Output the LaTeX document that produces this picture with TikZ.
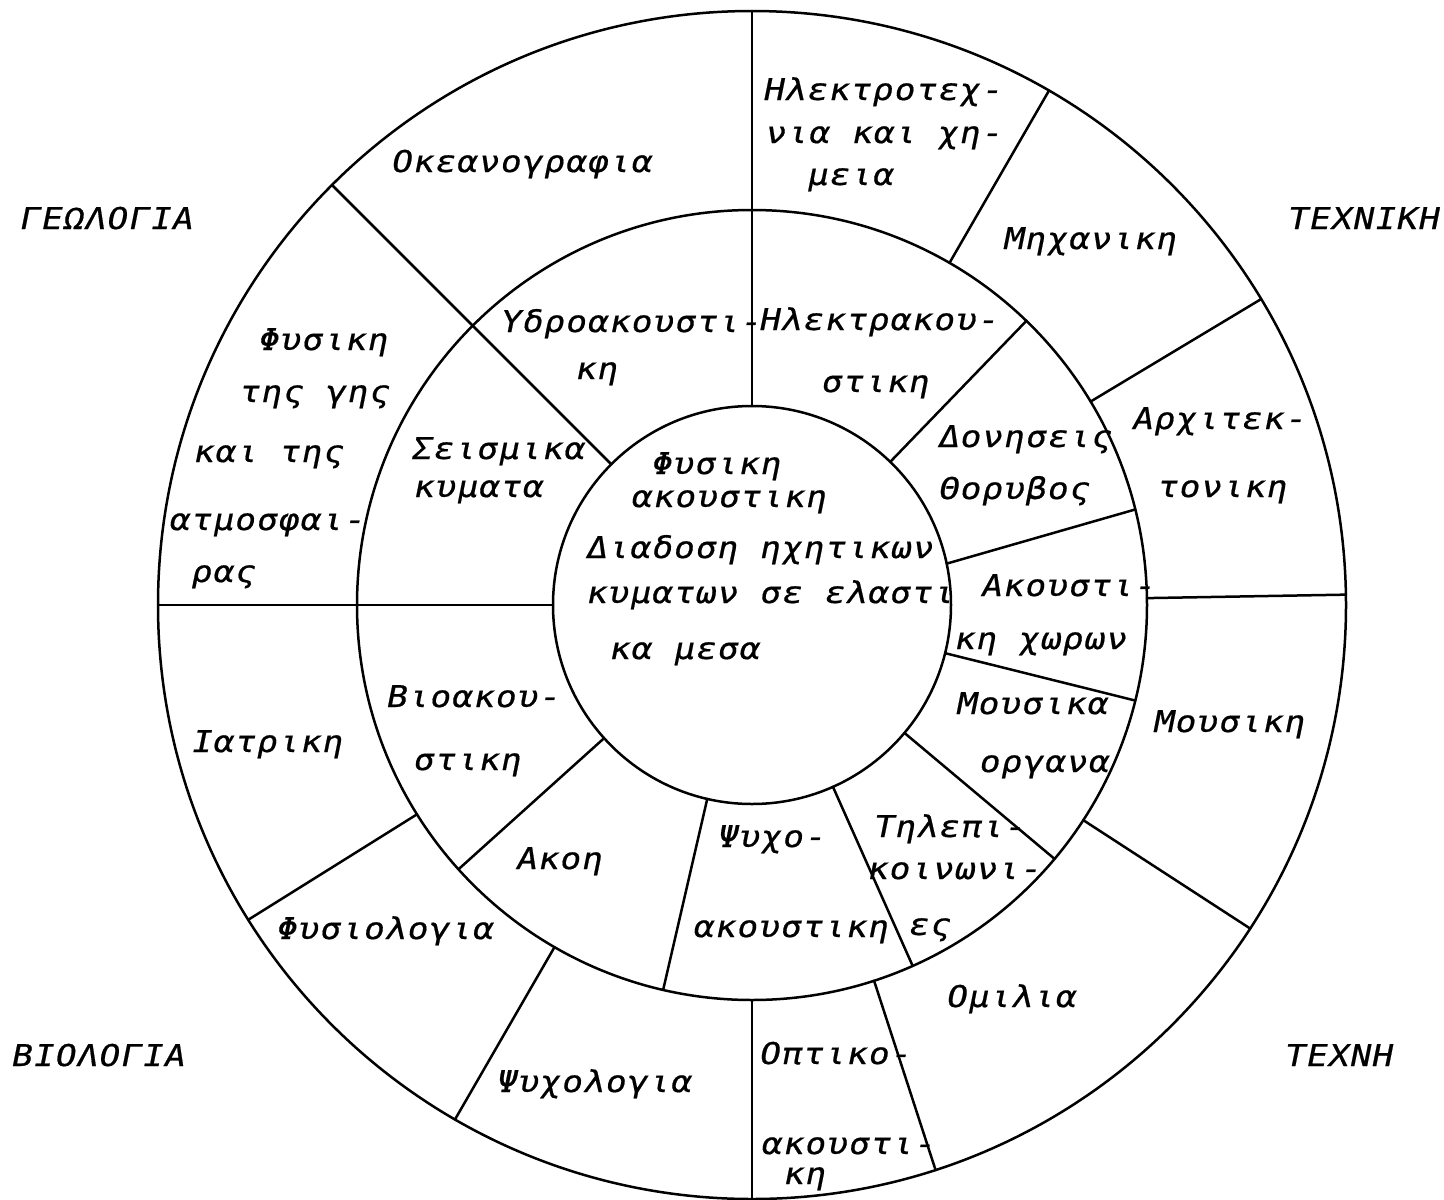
\documentclass[tikz,border=0pt]{standalone}
\usepackage{fontspec}
\newfontfamily\tw[FakeSlant=0.2,FakeStretch=1.15,FakeBold=0.6,LetterSpace=3.5]{DejaVu Sans Mono}
\newcommand\lab[4]{\node[lbl] (#1) at (#2,{-(#3+7)}) {#4};}
\newcommand\labc[4]{\node[lbl] (#1) at (#2,{-(#3+11)}) {#4};}
\begin{document}
\begin{tikzpicture}[x=1pt,y=1pt,
  ring/.style={circle,draw,line width=2.5pt,inner sep=0pt,outer sep=0pt},
  sepline/.style={line width=2.5pt,line cap=round},
  lbl/.style={anchor=base west,inner sep=0pt,font=\tw\fontsize{30pt}{30pt}\selectfont}]
\useasboundingbox (0,0) rectangle (1444,-1200);
% rings
\node[ring,minimum size=1188pt] (outer)  at (752,-605) {};
\node[ring,minimum size=790pt]  (middle) at (752,-605) {};
\node[ring,minimum size=398pt]  (inner)  at (752,-605) {};
% full radial separators
\foreach \a in {90,135,180} \draw[sepline] (inner.\a) -- (outer.\a);
% outer ring separators
\foreach \a in {60,31.5,1,-33,-72,-90,240,212} \draw[sepline] (middle.\a) -- (outer.\a);
% middle ring separators
\foreach \a in {46,-14,-40,-66.5,257,222} \draw[sepline] (inner.\a) -- (middle.\a);
\draw[sepline] (inner.12) -- (middle.14);
% outside labels
\labc{g1}{18}{218}{ΓΕΩΛΟΓΙΑ}
\labc{g2}{1286}{218}{ΤΕΧΝΙΚΗ}
\labc{g3}{10}{1055}{ΒΙΟΛΟΓΙΑ}
\labc{g4}{1283}{1055}{ΤΕΧΝΗ}
% outer ring
\lab{o1}{390}{165}{Οκεανογραφια}
\lab{o2a}{762}{93}{Ηλεκτροτεχ-}
\lab{o2b}{764}{136}{νια και χη-}
\lab{o2c}{806}{178}{μεια}
\lab{o3}{1002}{242}{Μηχανικη}
\lab{o4a}{1131}{422}{Αρχιτεκ-}
\lab{o4b}{1156}{490}{τονικη}
\lab{o5}{1152}{725}{Μουσικη}
\lab{o6}{945}{1000}{Ομιλια}
\lab{o7a}{758}{1057}{Οπτικο-}
\lab{o7b}{760}{1147}{ακουστι-}
\lab{o7c}{782}{1177}{κη}
\lab{o8}{495}{1085}{Ψυχολογια}
\lab{o9}{275}{932}{Φυσιολογια}
\lab{o10}{190}{745}{Ιατρικη}
\lab{o11a}{257}{343}{Φυσικη}
\lab{o11b}{238}{395}{της γης}
\lab{o11c}{192}{455}{και της}
\lab{o11d}{168}{523}{ατμοσφαι-}
\lab{o11e}{190}{575}{ρας}
% middle ring
\lab{m1a}{410}{452}{Σεισμικα}
\lab{m1b}{412}{490}{κυματα}
\lab{m2a}{499}{325}{Υδροακουστι-}
\lab{m2b}{574}{372}{κη}
\lab{m3a}{758}{323}{Ηλεκτρακου-}
\lab{m3b}{820}{385}{στικη}
\lab{m4a}{937}{440}{Δονησεις}
\lab{m4b}{937}{492}{Θορυβος}
\lab{m5a}{980}{589}{Ακουστι-}
\lab{m5b}{953}{642}{κη χωρων}
\lab{m6a}{955}{707}{Μουσικα}
\lab{m6b}{978}{765}{οργανα}
\lab{m7a}{872}{830}{Τηλεπι-}
\lab{m7b}{866}{872}{κοινωνι-}
\lab{m7c}{907}{928}{ες}
\lab{m8a}{716}{840}{Ψυχο-}
\lab{m8b}{692}{930}{ακουστικη}
\lab{m9}{515}{862}{Ακοη}
\lab{m10a}{385}{700}{Βιοακου-}
\lab{m10b}{412}{763}{στικη}
% centre
\lab{c1}{650}{467}{Φυσικη}
\lab{c2}{630}{500}{ακουστικη}
\lab{c3}{585}{551}{Διαδοση ηχητικων}
\lab{c4}{585}{596}{κυματων σε ελαστι}
\lab{c5}{608}{652}{κα μεσα}
\end{tikzpicture}
\end{document}
